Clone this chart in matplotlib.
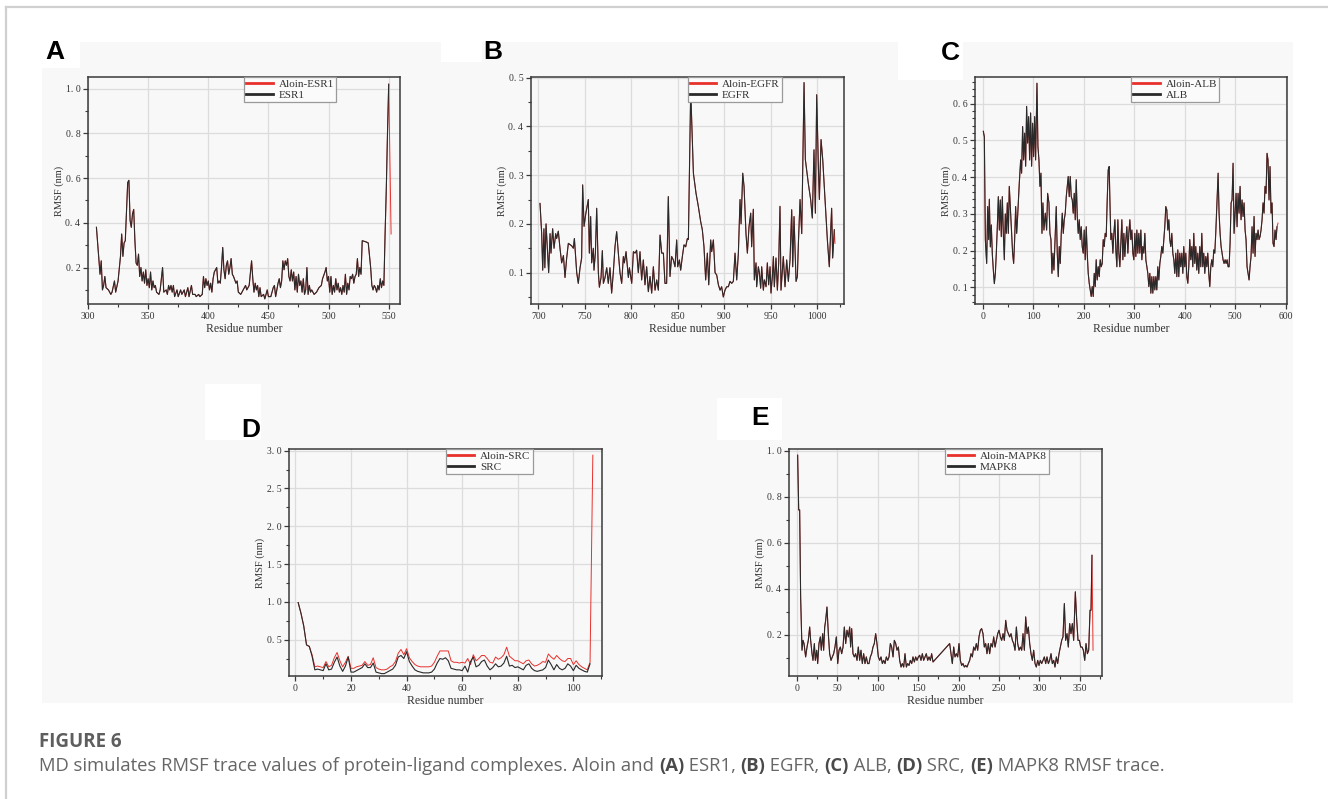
import matplotlib
matplotlib.use("Agg")
import matplotlib.pyplot as plt
from matplotlib.patches import Rectangle
from matplotlib.lines import Line2D
from matplotlib.ticker import MultipleLocator, FuncFormatter

# ---------------- data ----------------
# Panel A: ESR1
esr1_res = [
    307, 309, 310, 311, 312, 313, 314, 315, 317, 319,
    320, 322, 323, 325, 327, 328, 329, 330, 331, 332,
    333, 334, 335, 336, 337, 338, 339, 340, 341, 342,
    343, 344, 345, 346, 347, 348, 349, 350, 351, 352,
    353, 354, 355, 356, 357, 359, 360, 362, 363, 365,
    366, 367, 368, 369, 370, 371, 372, 374, 375, 377,
    378, 380, 381, 383, 384, 386, 387, 389, 390, 392,
    393, 395, 396, 397, 398, 399, 400, 401, 402, 403,
    404, 405, 406, 407, 408, 409, 410, 411, 412, 413,
    414, 415, 416, 417, 418, 419, 420, 421, 423, 424,
    425, 427, 428, 430, 431, 432, 434, 436, 437, 438,
    439, 440, 441, 442, 443, 444, 446, 447, 449, 450,
    452, 454, 455, 456, 458, 459, 460, 461, 462, 463,
    464, 465, 466, 467, 468, 469, 470, 471, 472, 473,
    474, 475, 476, 477, 478, 479, 480, 481, 482, 483,
    484, 485, 486, 488, 490, 492, 494, 495, 497, 498,
    499, 500, 501, 502, 503, 504, 505, 506, 507, 508,
    509, 510, 511, 512, 513, 514, 515, 516, 517, 518,
    519, 520, 521, 522, 523, 524, 525, 526, 527, 528,
    531, 533, 535, 536, 537, 538, 539, 540, 541, 542,
    543, 544, 545, 546, 547, 548, 549, 550]
esr1_rmsf = [
    .38, .24, .17, .23, .10, .12, .16, .11, .10, .08,
    .09, .14, .09, .14, .25, .35, .25, .31, .32, .45,
    .58, .59, .41, .38, .44, .46, .32, .22, .21, .26,
    .16, .20, .14, .18, .13, .19, .12, .15, .11, .18,
    .10, .14, .11, .12, .09, .08, .10, .20, .09, .10,
    .08, .12, .10, .12, .09, .12, .07, .10, .07, .10,
    .08, .10, .07, .11, .07, .12, .08, .08, .07, .08,
    .07, .08, .16, .11, .15, .12, .14, .10, .13, .09,
    .15, .18, .19, .20, .13, .14, .13, .20, .29, .19,
    .15, .21, .23, .17, .20, .24, .17, .16, .13, .14,
    .09, .08, .09, .11, .12, .10, .12, .23, .15, .09,
    .13, .10, .12, .07, .11, .07, .08, .06, .10, .07,
    .07, .11, .12, .07, .13, .15, .11, .14, .23, .19,
    .23, .21, .24, .16, .14, .19, .14, .18, .10, .16,
    .09, .17, .12, .14, .09, .15, .08, .10, .20, .08,
    .12, .09, .10, .08, .09, .11, .12, .15, .18, .20,
    .14, .16, .09, .16, .08, .12, .09, .15, .10, .13,
    .09, .11, .08, .12, .09, .17, .08, .13, .10, .16,
    .15, .17, .13, .16, .17, .24, .16, .20, .17, .32,
    .315, .31, .20, .12, .10, .12, .11, .09, .12, .10,
    .15, .11, .14, .12, .35, .55, .80, 1.02]
aloin_esr1_res = esr1_res + [552]
aloin_esr1_rmsf = esr1_rmsf + [0.35]

# Panel B: EGFR
egfr_res = [
    701.8, 703.6, 704.7, 706.0, 707.0, 708.3, 710.0, 711.1, 712.6, 713.6,
    715.4, 716.9, 718.7, 719.7, 721.5, 723.3, 725.1, 727.0, 728.7, 730.5,
    732.3, 735.9, 737.7, 738.8, 741.3, 743.0, 744.9, 746.6, 747.7, 749.2,
    751.0, 753.8, 754.9, 756.3, 757.4, 759.2, 759.9, 761.4, 762.8, 764.6,
    765.7, 767.5, 768.9, 770.0, 771.8, 773.6, 775.3, 777.1, 778.9, 780.7,
    782.5, 784.3, 786.1, 787.9, 789.7, 791.5, 792.6, 794.4, 796.9, 798.0,
    800.5, 802.3, 804.1, 805.8, 807.6, 809.4, 811.2, 813.0, 814.8, 816.6,
    818.4, 820.2, 822.0, 823.8, 825.6, 827.4, 829.2, 831.0, 832.8, 834.6,
    836.3, 838.1, 839.9, 841.7, 843.5, 845.3, 847.1, 848.9, 850.0, 851.8,
    853.2, 855.0, 856.8, 858.6, 860.4, 861.5, 864.0, 866.9, 869.7, 872.2,
    874.7, 876.5, 878.3, 880.1, 881.9, 883.4, 885.5, 886.6, 888.4, 890.2,
    892.0, 893.8, 895.6, 897.3, 899.1, 900.9, 902.7, 904.5, 906.3, 908.1,
    909.9, 911.7, 913.5, 915.3, 917.1, 918.2, 920.0, 921.4, 923.5, 925.0,
    926.8, 928.6, 929.6, 931.4, 932.5, 934.3, 935.0, 936.8, 937.9, 939.3,
    940.4, 942.2, 943.3, 945.1, 946.5, 947.9, 949.4, 950.4, 951.9, 953.0,
    954.0, 955.8, 957.3, 958.7, 960.1, 961.2, 963.7, 965.5, 967.3, 969.1,
    970.9, 972.7, 973.8, 975.2, 977.4, 978.8, 979.9, 981.7, 983.5, 986.0,
    987.4, 990.6, 993.1, 994.9, 996.7, 998.2, 999.6, 1001.4, 1002.5, 1004.3,
    1006.1, 1008.6, 1011.1, 1013.2, 1014.7, 1015.7, 1016.8, 1018.6]
egfr_rmsf = [
    .242, .18, .105, .19, .11, .20, .14, .10, .18, .14,
    .19, .15, .18, .17, .185, .15, .12, .135, .09, .13,
    .16, .155, .15, .17, .10, .078, .11, .13, .28, .195,
    .22, .25, .14, .215, .12, .15, .105, .14, .232, .10,
    .07, .09, .145, .078, .09, .11, .078, .11, .058, .10,
    .153, .184, .14, .10, .078, .133, .12, .143, .09, .11,
    .078, .143, .14, .146, .10, .143, .085, .126, .075, .112,
    .061, .092, .058, .112, .064, .085, .064, .177, .14, .14,
    .078, .078, .256, .092, .133, .126, .112, .167, .112, .126,
    .105, .133, .157, .153, .17, .168, .475, .304, .263, .236,
    .205, .188, .153, .085, .14, .075, .167, .143, .167, .10,
    .095, .075, .064, .071, .05, .064, .071, .071, .082, .078,
    .082, .14, .085, .14, .25, .20, .304, .277, .18, .14,
    .195, .222, .153, .23, .085, .12, .071, .112, .10, .068,
    .112, .064, .085, .071, .12, .075, .112, .058, .092, .133,
    .071, .13, .064, .12, .236, .064, .133, .071, .126, .082,
    .126, .229, .112, .215, .082, .092, .16, .25, .18, .49,
    .332, .283, .25, .212, .352, .222, .465, .318, .25, .373,
    .332, .25, .167, .112, .188, .232, .13, .188]
aloin_egfr_res = egfr_res + [1019.3]
aloin_egfr_rmsf = egfr_rmsf + [0.16]

# Panel C: ALB
alb_res = [
    1.3, 3.3, 5.3, 7.9, 9.9, 11.9, 13.2, 15.2, 17.1, 19.1,
    21.1, 23.1, 25.1, 27.0, 29.0, 31.0, 33.0, 34.9, 36.9, 38.9,
    40.9, 42.9, 44.8, 46.8, 48.8, 50.8, 52.7, 55.4, 57.4, 59.3,
    61.3, 63.3, 65.3, 67.3, 69.2, 72.5, 75.2, 77.1, 79.1, 81.1,
    83.1, 85.1, 87.0, 89.0, 91.0, 93.0, 94.9, 96.9, 98.9, 100.9,
    102.9, 104.8, 107.5, 109.4, 111.4, 113.4, 115.4, 117.4, 119.3, 121.3,
    124.0, 126.6, 128.6, 131.2, 133.2, 135.2, 137.1, 139.1, 141.1, 143.7,
    145.7, 147.7, 149.7, 151.6, 153.6, 155.6, 157.6, 159.6, 161.5, 163.5,
    165.5, 167.5, 169.4, 171.4, 173.4, 175.4, 177.4, 179.3, 181.3, 183.3,
    185.3, 187.3, 189.2, 191.2, 193.2, 195.2, 197.1, 199.1, 201.1, 203.1,
    205.1, 207.0, 209.0, 211.0, 213.0, 214.9, 216.9, 218.9, 220.9, 222.9,
    224.8, 226.8, 228.8, 230.8, 232.7, 234.7, 236.7, 238.7, 240.7, 242.6,
    244.6, 246.6, 248.6, 250.5, 251.9, 253.8, 255.8, 257.8, 259.8, 261.8,
    263.7, 265.7, 267.7, 269.7, 271.6, 273.6, 275.6, 277.6, 279.6, 281.5,
    283.5, 285.5, 287.5, 289.4, 291.4, 293.4, 295.4, 297.4, 299.3, 301.3,
    303.3, 305.3, 307.2, 309.2, 311.2, 313.2, 315.2, 317.1, 319.1, 321.1,
    323.1, 325.0, 327.0, 329.0, 331.0, 333.0, 334.9, 336.9, 338.9, 340.9,
    342.8, 344.8, 346.8, 348.8, 350.8, 352.7, 354.7, 356.7, 358.7, 360.6,
    362.6, 364.6, 366.6, 368.6, 370.5, 372.5, 374.5, 376.5, 378.5, 380.4,
    382.4, 384.4, 386.4, 388.3, 390.3, 392.3, 394.3, 396.3, 398.2, 400.2,
    402.2, 404.2, 406.2, 408.1, 410.1, 412.1, 414.1, 416.1, 418.0, 420.0,
    422.0, 424.0, 425.9, 427.9, 429.9, 431.9, 433.9, 435.8, 437.8, 439.8,
    441.8, 443.8, 445.7, 447.7, 449.7, 451.7, 453.6, 455.6, 457.6, 459.6,
    461.5, 463.5, 466.2, 468.1, 470.1, 472.1, 474.1, 476.0, 478.0, 480.0,
    482.0, 484.0, 486.0, 487.9, 489.9, 491.9, 493.8, 495.8, 497.8, 499.8,
    501.8, 503.7, 505.7, 507.7, 509.7, 511.6, 513.6, 515.6, 517.6, 519.6,
    521.5, 523.5, 525.5, 527.5, 529.4, 531.4, 533.4, 535.4, 537.4, 539.3,
    541.3, 543.3, 545.3, 547.2, 549.2, 551.2, 553.2, 555.2, 557.1, 559.1,
    561.1, 563.1, 565.0, 567.0, 569.0, 571.0, 573.0, 574.9, 576.9, 578.9,
    580.9, 582.8]
alb_rmsf = [
    .525, .51, .23, .165, .32, .23, .34, .21, .27, .19,
    .147, .11, .138, .193, .265, .347, .256, .338, .238, .347,
    .247, .175, .30, .247, .33, .247, .375, .302, .247, .193,
    .165, .23, .32, .247, .293, .384, .447, .411, .538, .447,
    .52, .43, .593, .493, .565, .447, .575, .43, .547, .456,
    .565, .447, .656, .484, .447, .375, .411, .247, .33, .256,
    .302, .256, .356, .33, .247, .23, .138, .193, .147, .247,
    .32, .193, .129, .211, .165, .247, .302, .247, .284, .302,
    .347, .375, .402, .347, .402, .347, .338, .302, .356, .284,
    .393, .293, .247, .284, .23, .265, .211, .193, .256, .175,
    .265, .193, .138, .111, .093, .075, .102, .075, .138, .102,
    .175, .12, .156, .129, .175, .156, .165, .23, .211, .247,
    .238, .338, .42, .429, .338, .23, .247, .193, .247, .284,
    .202, .156, .284, .193, .156, .22, .284, .175, .247, .184,
    .23, .265, .193, .247, .284, .23, .256, .193, .175, .247,
    .184, .256, .193, .247, .193, .256, .175, .211, .193, .247,
    .175, .156, .138, .102, .138, .084, .129, .084, .129, .093,
    .129, .093, .156, .12, .165, .184, .211, .193, .23, .265,
    .32, .311, .256, .284, .23, .211, .247, .193, .175, .138,
    .193, .129, .202, .129, .193, .156, .193, .138, .211, .156,
    .193, .129, .111, .156, .23, .175, .211, .156, .247, .165,
    .211, .147, .193, .138, .211, .156, .247, .156, .193, .138,
    .184, .156, .193, .138, .102, .156, .175, .156, .202, .193,
    .247, .32, .411, .302, .247, .211, .193, .175, .165, .175,
    .165, .175, .156, .156, .22, .33, .338, .438, .247, .302,
    .356, .265, .356, .302, .375, .284, .338, .293, .33, .256,
    .23, .156, .138, .12, .156, .184, .265, .193, .293, .184,
    .247, .23, .256, .23, .238, .256, .284, .33, .302, .375,
    .356, .465, .447, .338, .429, .302, .33, .22, .211, .256,
    .23, .265]
aloin_alb_res = alb_res + [584.8]
aloin_alb_rmsf = alb_rmsf + [0.275]

# Panel D: SRC (residues 1..106 / 1..107)
src_rmsf = [
    .99, .85, .68, .43, .41, .28, .10, .11, .10, .09,
    .18, .10, .11, .20, .27, .15, .08, .15, .27, .07,
    .07, .09, .11, .13, .18, .13, .13, .19, .07, .06,
    .05, .05, .07, .09, .11, .16, .27, .29, .25, .34,
    .21, .15, .10, .08, .07, .06, .06, .06, .07, .11,
    .19, .25, .24, .26, .22, .12, .11, .10, .10, .09,
    .15, .07, .21, .27, .14, .16, .21, .23, .15, .10,
    .13, .18, .14, .15, .19, .28, .15, .16, .13, .14,
    .12, .10, .16, .18, .12, .09, .08, .09, .10, .13,
    .23, .17, .10, .17, .12, .10, .12, .18, .15, .09,
    .16, .12, .10, .08, .07, .18]
aloin_src_rmsf = [
    .99, .85, .68, .43, .41, .30, .14, .15, .14, .13,
    .21, .14, .16, .26, .33, .22, .14, .20, .28, .12,
    .12, .14, .15, .16, .21, .16, .17, .26, .13, .11,
    .10, .10, .11, .14, .16, .21, .32, .37, .30, .38,
    .26, .21, .17, .15, .14, .14, .14, .14, .15, .20,
    .28, .35, .35, .35, .35, .22, .20, .20, .19, .20,
    .19, .25, .17, .30, .22, .25, .29, .29, .25, .20,
    .19, .27, .24, .26, .30, .40, .28, .25, .22, .22,
    .20, .18, .22, .23, .18, .15, .16, .18, .21, .20,
    .31, .27, .24, .29, .25, .22, .21, .25, .25, .17,
    .22, .17, .14, .12, .10, .20, 2.94]
src_res = list(range(1, len(src_rmsf) + 1))
aloin_src_res = list(range(1, len(aloin_src_rmsf) + 1))

# Panel E: MAPK8
mapk8_res = [
    0.8, 2.1, 3.3, 4.5, 6.2, 7.4, 8.7, 10.7, 12.4, 14.0,
    15.7, 16.9, 18.6, 19.8, 21.5, 22.7, 24.4, 25.6, 27.2, 28.9,
    30.1, 31.8, 33.0, 34.3, 35.5, 37.1, 38.8, 40.4, 42.1, 43.7,
    45.4, 47.0, 48.7, 50.4, 52.0, 53.7, 55.3, 57.0, 58.6, 60.3,
    61.9, 63.6, 65.2, 66.4, 67.7, 69.3, 71.0, 72.6, 74.3, 75.9,
    77.6, 79.2, 80.9, 82.5, 84.2, 85.8, 87.5, 89.1, 90.8, 92.4,
    94.1, 95.7, 97.4, 99.0, 100.7, 102.4, 104.0, 105.7, 107.3, 109.0,
    110.6, 112.3, 113.9, 115.6, 117.2, 118.9, 120.5, 122.2, 123.8, 125.5,
    127.1, 128.8, 130.4, 132.1, 133.7, 135.4, 137.0, 138.7, 140.3, 142.0,
    143.6, 145.3, 146.9, 148.6, 150.2, 151.9, 153.5, 155.2, 156.8, 158.5,
    160.1, 161.8, 163.4, 165.1, 166.7, 168.4, 189.0, 190.7, 192.3, 194.0,
    195.6, 197.3, 198.9, 200.6, 202.2, 203.9, 205.5, 207.2, 208.8, 210.5,
    212.1, 213.8, 215.4, 217.1, 218.7, 220.4, 222.0, 223.7, 225.3, 227.0,
    228.6, 230.3, 231.9, 233.6, 235.2, 236.9, 238.5, 240.2, 241.9, 243.5,
    245.2, 246.8, 248.5, 250.1, 251.8, 253.4, 255.1, 256.7, 258.4, 260.0,
    261.7, 263.3, 265.0, 266.6, 268.3, 269.9, 271.6, 273.2, 274.9, 276.5,
    278.2, 279.8, 281.5, 283.1, 284.8, 286.4, 288.1, 289.7, 291.4, 293.0,
    294.7, 296.3, 298.0, 299.6, 301.3, 302.9, 304.6, 306.2, 307.9, 309.5,
    311.2, 312.8, 314.5, 316.1, 317.8, 319.4, 321.1, 322.7, 324.4, 326.0,
    327.7, 329.3, 331.0, 332.6, 334.3, 335.9, 337.6, 339.2, 340.9, 342.5,
    344.6, 346.3, 347.9, 349.6, 351.2, 352.9, 354.5, 356.2, 357.8, 359.5,
    361.1, 362.8, 364.0, 365.2]
mapk8_rmsf = [
    .98, .742, .742, .364, .132, .175, .161, .103, .146, .175,
    .233, .175, .117, .088, .161, .088, .132, .074, .161, .19,
    .132, .204, .132, .233, .262, .32, .204, .117, .088, .103,
    .117, .146, .19, .074, .132, .146, .117, .146, .233, .161,
    .219, .19, .233, .146, .226, .117, .103, .117, .088, .146,
    .088, .132, .074, .117, .074, .103, .074, .074, .103, .117,
    .146, .161, .204, .161, .103, .088, .103, .074, .088, .074,
    .103, .088, .103, .161, .146, .103, .175, .161, .132, .146,
    .088, .059, .074, .059, .117, .059, .074, .066, .088, .074,
    .103, .081, .103, .088, .103, .11, .088, .117, .088, .103,
    .117, .088, .103, .088, .117, .081, .161, .117, .074, .146,
    .103, .117, .103, .161, .088, .066, .074, .059, .066, .059,
    .074, .088, .117, .103, .146, .132, .161, .132, .19, .219,
    .226, .204, .146, .161, .117, .161, .117, .161, .146, .19,
    .146, .175, .204, .219, .19, .175, .204, .175, .262, .219,
    .204, .19, .204, .175, .161, .132, .233, .161, .132, .146,
    .132, .204, .132, .277, .204, .233, .161, .117, .088, .132,
    .074, .059, .088, .066, .088, .074, .088, .103, .074, .103,
    .074, .088, .117, .074, .088, .059, .103, .074, .117, .146,
    .175, .19, .335, .175, .204, .146, .248, .204, .248, .175,
    .386, .262, .175, .175, .146, .146, .132, .088, .161, .117,
    .132, .306, .306, .545]
aloin_mapk8_res = mapk8_res + [366.5]
aloin_mapk8_rmsf = mapk8_rmsf + [0.132]

letters = ["A", "B", "C", "D", "E"]
proteins = ["ESR1", "EGFR", "ALB", "SRC", "MAPK8"]
x_label = "Residue number"
y_label = "RMSF (nm)"
caption_title = "FIGURE 6"
caption_parts = [
    ("MD simulates RMSF trace values of protein-ligand complexes. Aloin and ", False),
    ("(A)", True), (" ESR1, ", False), ("(B)", True), (" EGFR, ", False),
    ("(C)", True), (" ALB, ", False), ("(D)", True), (" SRC, ", False),
    ("(E)", True), (" MAPK8 RMSF trace.", False)]

# ---------------- figure ----------------
W, H = 1328, 799
fig = plt.figure(figsize=(W / 100, H / 100), dpi=100, facecolor="white")


def fx(x):
    return x / W


def fy(y):
    return 1 - y / H


# page frame lines and grey panel background
fig.add_artist(Line2D([fx(6), 1], [fy(7), fy(7)], color="#d0d0d0", lw=1.6))
fig.add_artist(Line2D([fx(6), fx(6)], [fy(7), 0], color="#d0d0d0", lw=1.6))
fig.add_artist(Rectangle((fx(42), fy(703)), fx(1293 - 42), (703 - 42) / H,
                         transform=fig.transFigure, fc="#f8f8f8", ec="none", zorder=0))
for (x0, y0, x1, y1) in [(42, 42, 80, 68), (441, 42, 482, 62), (898, 42, 963, 80),
                         (205, 384, 261, 440), (717, 398, 782, 440)]:
    fig.add_artist(Rectangle((fx(x0), fy(y1)), fx(x1 - x0), (y1 - y0) / H,
                             transform=fig.transFigure, fc="white", ec="none", zorder=0.5))

SERIF = "Liberation Serif"
RED = "#e8302c"
BLACK = "#2a2a2a"

panels = [
    dict(box=(88, 77, 400, 304), red=(aloin_esr1_res, aloin_esr1_rmsf), blk=(esr1_res, esr1_rmsf),
         xlim=(300, 559.4), ylim=(0.037, 1.052), xmaj=50, xmin=25, ymaj=0.2, ymin=0.1,
         letter_xy=(55, 52)),
    dict(box=(531, 77, 844, 304), red=(aloin_egfr_res, aloin_egfr_rmsf), blk=(egfr_res, egfr_rmsf),
         xlim=(692.1, 1029), ylim=(0.0356, 0.5014), xmaj=50, xmin=25, ymaj=0.1, ymin=0.05,
         letter_xy=(493, 52)),
    dict(box=(975, 77, 1287, 304), red=(aloin_alb_res, aloin_alb_rmsf), blk=(alb_res, alb_rmsf),
         xlim=(-15.2, 602.6), ylim=(0.0545, 0.673), xmaj=100, xmin=50, ymaj=0.1, ymin=0.02,
         letter_xy=(950, 53)),
    dict(box=(289, 449, 602, 676), red=(aloin_src_res, aloin_src_rmsf), blk=(src_res, src_rmsf),
         xlim=(-2.3, 110.3), ylim=(0.0186, 3.022), xmaj=20, xmin=10, ymaj=0.5, ymin=0.25,
         letter_xy=(251, 430)),
    dict(box=(789, 449, 1102, 676), red=(aloin_mapk8_res, aloin_mapk8_rmsf), blk=(mapk8_res, mapk8_rmsf),
         xlim=(-9.9, 377.6), ylim=(0.02, 1.007), xmaj=50, xmin=25, ymaj=0.2, ymin=0.1,
         letter_xy=(760, 418)),
]

yfmt = FuncFormatter(lambda v, _: ("%.1f" % v).replace(".", ". "))
xfmt = FuncFormatter(lambda v, _: "%d" % round(v))

for i, p in enumerate(panels):
    x0, y0, x1, y1 = p["box"]
    ax = fig.add_axes([fx(x0), fy(y1), fx(x1 - x0), (y1 - y0) / H])
    ax.set_facecolor("none")
    assert len(p["red"][0]) == len(p["red"][1])
    assert len(p["blk"][0]) == len(p["blk"][1])
    ax.plot(p["red"][0], p["red"][1], color=RED, lw=0.7, zorder=3)
    ax.plot(p["blk"][0], p["blk"][1], color=BLACK, lw=0.8, zorder=4)
    ax.set_xlim(*p["xlim"])
    ax.set_ylim(*p["ylim"])
    ax.xaxis.set_major_locator(MultipleLocator(p["xmaj"]))
    ax.xaxis.set_minor_locator(MultipleLocator(p["xmin"]))
    ax.yaxis.set_major_locator(MultipleLocator(p["ymaj"]))
    ax.yaxis.set_minor_locator(MultipleLocator(p["ymin"]))
    ax.xaxis.set_major_formatter(xfmt)
    ax.yaxis.set_major_formatter(yfmt)
    ax.grid(True, which="major", color="#dcdcdc", lw=0.9)
    ax.set_axisbelow(True)
    for s in ax.spines.values():
        s.set_color("#3a3a3a")
        s.set_linewidth(1.1)
    ax.tick_params(which="both", direction="out", top=False, right=False,
                   colors="#3a3a3a", labelsize=7, labelcolor="#333333")
    ax.tick_params(which="major", length=3.5, width=0.9, pad=2)
    ax.tick_params(which="minor", length=2, width=0.8)
    for lab in ax.get_xticklabels() + ax.get_yticklabels():
        lab.set_fontfamily(SERIF)
    ax.set_xlabel(x_label, fontsize=8.5, family=SERIF, color="#333333", labelpad=2)
    ax.set_ylabel(y_label, fontsize=7.5, family=SERIF, color="#333333", labelpad=1)
    handles = [Line2D([], [], color=RED, lw=2), Line2D([], [], color=BLACK, lw=2)]
    leg = ax.legend(handles, ["Aloin-" + proteins[i], proteins[i]], loc="upper left",
                    bbox_to_anchor=(0.5, 1.0), borderaxespad=0, frameon=True, fancybox=False,
                    edgecolor="#9a9a9a", facecolor="#fbfbfb", framealpha=1,
                    prop={"family": SERIF, "size": 8}, handlelength=2.4, handletextpad=0.5,
                    labelspacing=0.1, borderpad=0.2)
    leg.get_frame().set_linewidth(0.9)
    for t in leg.get_texts():
        t.set_color("#333333")
    lx, ly = p["letter_xy"]
    fig.text(fx(lx), fy(ly), letters[i], ha="center", va="center", fontsize=19,
             fontweight="bold", family="Liberation Sans", color="black")

# caption
fig.text(fx(39), fy(742), caption_title, ha="left", va="center", fontsize=13.5,
         fontweight="bold", family="Open Sans", color="#5e5e5e")
fig.canvas.draw()
renderer = fig.canvas.get_renderer()
cx = fx(39)
for text, bold in caption_parts:
    t = fig.text(cx, fy(766), text, ha="left", va="center", fontsize=13.3,
                 fontweight="bold" if bold else "normal", family="Open Sans",
                 color="#4a4a4a" if bold else "#666666")
    bb = t.get_window_extent(renderer)
    cx += bb.width / W

fig.savefig("out.png", dpi=100, facecolor="white")
